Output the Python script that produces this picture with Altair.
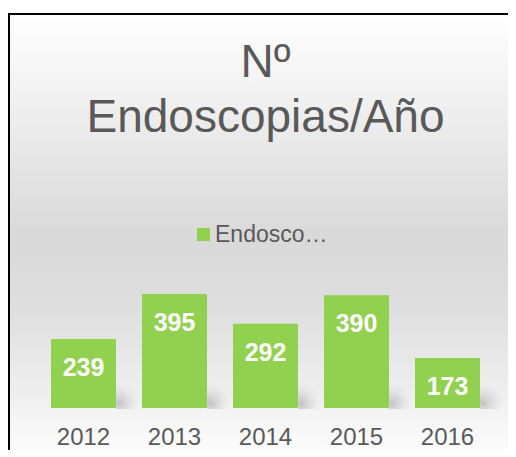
import altair as alt
import pandas as pd

years = ["2012", "2013", "2014", "2015", "2016"]
values = [239, 395, 292, 390, 173]
series = "Endoscopias"

df = pd.DataFrame({"year": years, "value": values, "series": [series] * len(years)})

FONT = "Liberation Sans"
GREY = "#595959"
GREEN = "#92D050"

bg_gradient = alt.LinearGradient(
    gradient="linear",
    x1=0, y1=0, x2=0, y2=1,
    stops=[
        alt.GradientStop(color="#ffffff", offset=0),
        alt.GradientStop(color="#f0f0f0", offset=0.19),
        alt.GradientStop(color="#d9d9d9", offset=0.48),
        alt.GradientStop(color="#dedede", offset=0.63),
        alt.GradientStop(color="#efefef", offset=0.82),
        alt.GradientStop(color="#fafafa", offset=0.92),
        alt.GradientStop(color="#ffffff", offset=1),
    ],
)

shadow_gradient = alt.RadialGradient(
    gradient="radial",
    x1=0.15, y1=0.8, r1=0,
    x2=0.15, y2=0.8, r2=0.75,
    stops=[
        alt.GradientStop(color="rgba(190,190,190,0.9)", offset=0),
        alt.GradientStop(color="rgba(210,210,210,0.5)", offset=0.5),
        alt.GradientStop(color="rgba(230,230,230,0)", offset=1),
    ],
)

base = alt.Chart(df)

background = base.mark_rect(fill=bg_gradient, stroke="black", strokeWidth=2).encode(
    x=alt.value(-29), x2=alt.value(500), y=alt.value(-264), y2=alt.value(200)
).transform_filter(alt.datum.year == "2012")

x_enc = alt.X(
    "year:N",
    sort=years,
    scale=alt.Scale(paddingInner=0.286, paddingOuter=0.143),
    axis=alt.Axis(
        title=None, domain=False, ticks=False, labelAngle=0,
        labelFont=FONT, labelFontSize=24, labelColor=GREY, labelPadding=17, zindex=1,
    ),
)
y_enc = alt.Y("value:Q", scale=alt.Scale(domain=[0, 450]), axis=None)

shadows = base.mark_rect(fill=shadow_gradient, width=26, xOffset=45.5).encode(
    x=x_enc, y=alt.value(102), y2=alt.value(131)
)

bars = base.mark_bar(color=GREEN).encode(
    x=x_enc,
    y=y_enc,
    color=alt.Color(
        "series:N",
        scale=alt.Scale(range=[GREEN]),
        legend=alt.Legend(
            title=None, orient="none", legendX=154, legendY=-55,
            symbolType="square", symbolSize=169, symbolStrokeWidth=0,
            labelFont=FONT, labelFontSize=23, labelColor=GREY,
            labelLimit=118, labelOffset=0, padding=0,
        ),
    ),
)

labels = base.mark_text(
    font=FONT, fontSize=25, fontWeight="bold", color="white",
    baseline="alphabetic", align="center", dy=37,
).encode(x=x_enc, y=y_enc, text="value:Q")

chart = alt.layer(background, shadows, bars, labels).properties(
    width=455,
    height=130,
    padding={"left": 30, "top": 270, "right": 15, "bottom": 42},
    autosize=alt.AutoSizeParams(type="none"),
    title=alt.TitleParams(
        text=["Nº", "Endoscopias/Año"], font=FONT, fontSize=46, fontWeight="normal",
        color=GREY, lineHeight=55, anchor="middle", baseline="alphabetic", offset=-165,
    ),
).configure_view(stroke=None)

chart.save("out.html", embed_options={"renderer": "svg", "actions": False})
